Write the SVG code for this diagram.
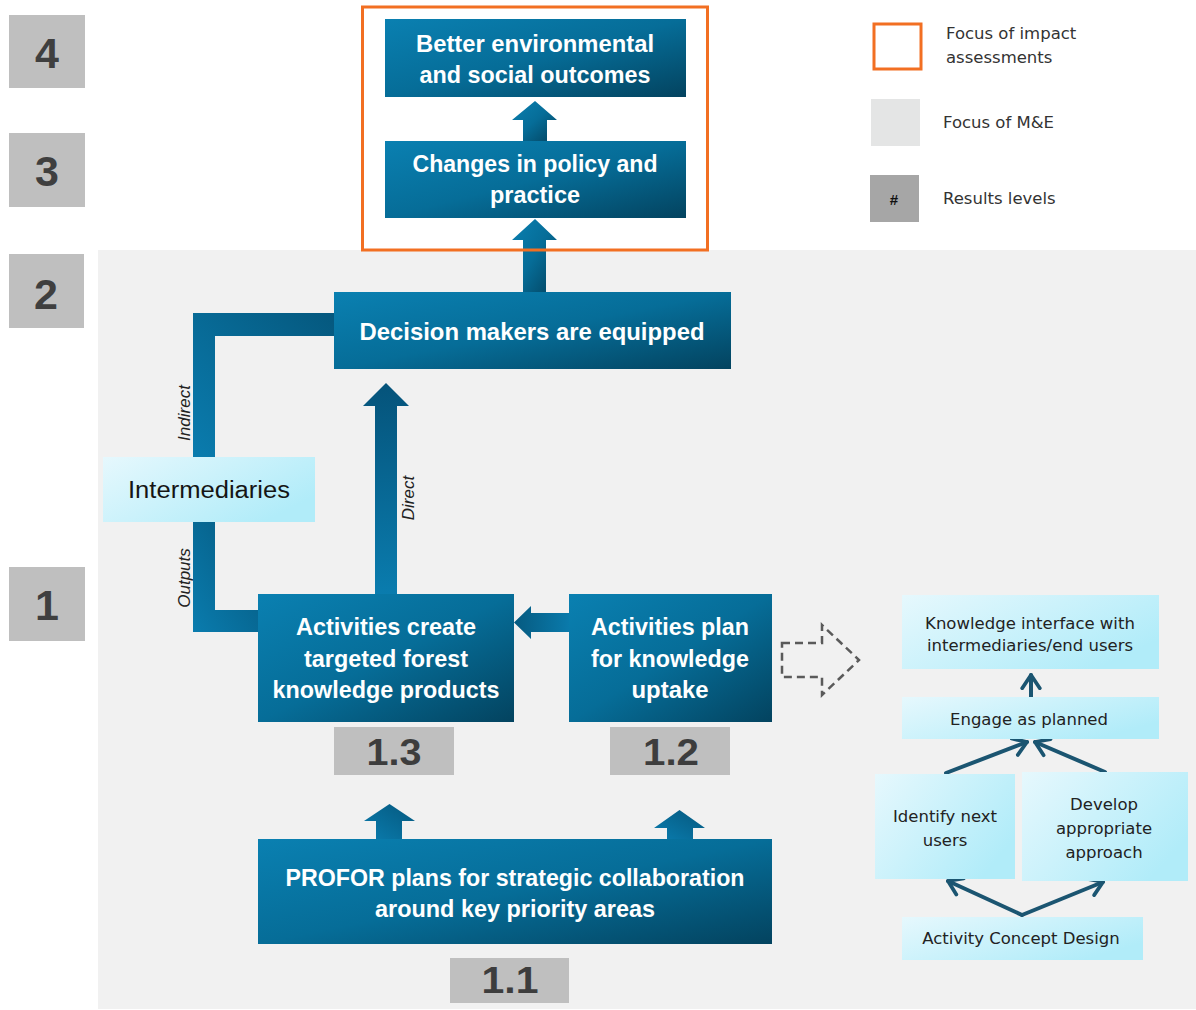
<svg xmlns="http://www.w3.org/2000/svg" width="1196" height="1010" viewBox="0 0 1196 1010">
<defs>
  <linearGradient id="gBox" x1="0" y1="0" x2="1" y2="1">
    <stop offset="0" stop-color="#0a80b1"/>
    <stop offset="0.5" stop-color="#066d98"/>
    <stop offset="1" stop-color="#03435f"/>
  </linearGradient>
  <linearGradient id="gLight" x1="0" y1="0" x2="1" y2="0.6">
    <stop offset="0" stop-color="#e6f8fd"/>
    <stop offset="1" stop-color="#b1ecf9"/>
  </linearGradient>
  <linearGradient id="gArrV" x1="0" y1="0" x2="0" y2="1">
    <stop offset="0" stop-color="#05537a"/>
    <stop offset="1" stop-color="#0a7cae"/>
  </linearGradient>
  <linearGradient id="gArrD" x1="0" y1="1" x2="1" y2="0">
    <stop offset="0" stop-color="#0a7cae"/>
    <stop offset="1" stop-color="#05587e"/>
  </linearGradient>
  <linearGradient id="gArrH" x1="1" y1="0" x2="0" y2="0">
    <stop offset="0" stop-color="#0a7aab"/>
    <stop offset="1" stop-color="#065a80"/>
  </linearGradient>
  <marker id="chev" viewBox="0 0 10 10" refX="7" refY="5" markerWidth="22" markerHeight="22" markerUnits="userSpaceOnUse" orient="auto">
    <path d="M1,1 L7,5 L1,9" fill="none" stroke="#1b5571" stroke-width="1.7" stroke-linecap="round" stroke-linejoin="round"/>
  </marker>
  <style>
    .box { fill: url(#gBox); }
    .light { fill: url(#gLight); }
    .lvl { fill: #bfbfbf; }
    .lvlt { font-family: "Liberation Sans", Arial, sans-serif; font-weight: bold; font-size: 43px; fill: #3f3f3f; text-anchor: middle; }
    .subt { font-family: "Liberation Sans", Arial, sans-serif; font-weight: bold; font-size: 36px; fill: #3d3d3d; text-anchor: middle; }
    .bt { font-family: "Liberation Sans", Arial, sans-serif; font-weight: bold; font-size: 24px; fill: #ffffff; text-anchor: middle; }
    .lt { font-family: "DejaVu Sans", "Liberation Sans", sans-serif; font-size: 16.5px; fill: #222222; text-anchor: middle; }
    .leg { font-family: "DejaVu Sans", "Liberation Sans", sans-serif; font-size: 16.5px; fill: #333333; }
    .it { font-family: "Liberation Sans", Arial, sans-serif; font-style: italic; font-size: 17px; fill: #222222; text-anchor: middle; }
    .arrow { fill: url(#gArrV); }
    .thin { fill: none; stroke: #1b5571; stroke-width: 4; stroke-linecap: round; marker-end: url(#chev); }
  </style>
</defs>

<rect x="0" y="0" width="1196" height="1010" fill="#ffffff"/>
<!-- M&E focus background -->
<rect x="98" y="250" width="1098" height="759" fill="#f1f1f1"/>

<!-- results levels -->
<g id="level-4"><rect class="lvl" x="9" y="15" width="76" height="73"/><text class="lvlt" x="47" y="68">4</text></g>
<g id="level-3"><rect class="lvl" x="9" y="133" width="76" height="74"/><text class="lvlt" x="47" y="186">3</text></g>
<g id="level-2"><rect class="lvl" x="9" y="254" width="75" height="74"/><text class="lvlt" x="46" y="309">2</text></g>
<g id="level-1"><rect class="lvl" x="9" y="567" width="76" height="74"/><text class="lvlt" x="47" y="620">1</text></g>

<!-- legend -->
<g id="legend">
  <rect x="874" y="24" width="47" height="45" fill="#ffffff" stroke="#f26f22" stroke-width="3"/>
  <text class="leg" x="946" y="39">Focus of impact</text>
  <text class="leg" x="946" y="63">assessments</text>
  <rect x="871" y="99" width="49" height="47" fill="#e4e5e5"/>
  <text class="leg" x="943" y="128">Focus of M&amp;E</text>
  <rect x="870" y="175" width="49" height="47" fill="#a6a6a6"/>
  <text x="894" y="205" text-anchor="middle" font-family="Liberation Sans, Arial, sans-serif" font-weight="bold" font-size="15" fill="#111">#</text>
  <text class="leg" x="943" y="204">Results levels</text>
</g>

<!-- connectors -->
<g id="connectors">
  <polygon fill="url(#gBox)" points="523,141 523,120 512,120 535,101 557,120 547,120 547,141"/>
  <polygon fill="url(#gBox)" points="523,292 523,240 512,240 535,219 557,240 546,240 546,292"/>
  <polygon class="arrow" points="375,594 375,406 363,406 386,383 409,406 397,406 397,594"/>
  <polygon fill="url(#gArrD)" points="193,457 193,313 334,313 334,336 215,336 215,457"/>
  <polygon fill="url(#gArrD)" points="193,522 215,522 215,610 258,610 258,632 193,632"/>
  <polygon fill="url(#gArrH)" points="569,613 531,613 531,606 514,622.5 531,639 531,632 569,632"/>
  <polygon fill="url(#gArrD)" points="376,839 376,821 364,821 389.5,804 415,821 402,821 402,839"/>
  <polygon fill="url(#gArrD)" points="667,839 667,828 654,828 679.5,810 705,828 693,828 693,839"/>
  <polygon points="782,643 822,643 822,625 859,660 822,695 822,677 782,677" fill="none" stroke="#5a5a5a" stroke-width="2.5" stroke-dasharray="8,5"/>
  <line class="thin" x1="1031" y1="697" x2="1031" y2="675"/>
  <line class="thin" x1="946" y1="773" x2="1027" y2="742"/>
  <line class="thin" x1="1105" y1="772" x2="1035" y2="742"/>
  <line class="thin" x1="1022" y1="915" x2="948" y2="881"/>
  <line class="thin" x1="1022" y1="915" x2="1103" y2="882"/>
  <text class="it" transform="translate(190,413) rotate(-90)" x="0" y="0">Indirect</text>
  <text class="it" transform="translate(414,498) rotate(-90)" x="0" y="0">Direct</text>
  <text class="it" transform="translate(190,578) rotate(-90)" x="0" y="0">Outputs</text>
</g>

<!-- impact focus -->
<rect id="impact-focus" x="362.5" y="7" width="345" height="243" fill="none" stroke="#f26f22" stroke-width="3"/>

<g id="n-outcomes">
  <rect class="box" x="385" y="19" width="301" height="78"/>
  <text class="bt" x="535" y="52" textLength="238" lengthAdjust="spacingAndGlyphs">Better environmental</text>
  <text class="bt" x="535" y="83" textLength="231" lengthAdjust="spacingAndGlyphs">and social outcomes</text>
</g>
<g id="n-policy">
  <rect class="box" x="385" y="141" width="301" height="77"/>
  <text class="bt" x="535" y="172" textLength="245" lengthAdjust="spacingAndGlyphs">Changes in policy and</text>
  <text class="bt" x="535" y="203" textLength="90" lengthAdjust="spacingAndGlyphs">practice</text>
</g>
<g id="n-decision">
  <rect class="box" x="334" y="292" width="397" height="77"/>
  <text class="bt" x="532" y="340" textLength="345" lengthAdjust="spacingAndGlyphs">Decision makers are equipped</text>
</g>
<g id="n-intermediaries">
  <rect class="light" x="103" y="457" width="212" height="65"/>
  <text x="209" y="498" text-anchor="middle" font-family="Liberation Sans, Arial, sans-serif" font-size="23" fill="#151515" textLength="162" lengthAdjust="spacingAndGlyphs">Intermediaries</text>
</g>
<g id="n-create">
  <rect class="box" x="258" y="594" width="256" height="128"/>
  <text class="bt" x="386" y="635" textLength="180" lengthAdjust="spacingAndGlyphs">Activities create</text>
  <text class="bt" x="386" y="667" textLength="164" lengthAdjust="spacingAndGlyphs">targeted forest</text>
  <text class="bt" x="386" y="698" textLength="227" lengthAdjust="spacingAndGlyphs">knowledge products</text>
</g>
<g id="n-plan">
  <rect class="box" x="569" y="594" width="203" height="128"/>
  <text class="bt" x="670" y="635" textLength="158" lengthAdjust="spacingAndGlyphs">Activities plan</text>
  <text class="bt" x="670" y="667" textLength="158" lengthAdjust="spacingAndGlyphs">for knowledge</text>
  <text class="bt" x="670" y="698" textLength="77" lengthAdjust="spacingAndGlyphs">uptake</text>
</g>
<g id="n-profor">
  <rect class="box" x="258" y="839" width="514" height="105"/>
  <text class="bt" x="515" y="886" textLength="459" lengthAdjust="spacingAndGlyphs">PROFOR plans for strategic collaboration</text>
  <text class="bt" x="515" y="917" textLength="280" lengthAdjust="spacingAndGlyphs">around key priority areas</text>
</g>
<g id="label-1-3"><rect class="lvl" x="334" y="727" width="120" height="48"/><text class="subt" x="394" y="765" textLength="55" lengthAdjust="spacingAndGlyphs">1.3</text></g>
<g id="label-1-2"><rect class="lvl" x="610" y="727" width="120" height="48"/><text class="subt" x="671" y="765" textLength="56" lengthAdjust="spacingAndGlyphs">1.2</text></g>
<g id="label-1-1"><rect class="lvl" x="450" y="958" width="119" height="45"/><text class="subt" x="510" y="993" textLength="57" lengthAdjust="spacingAndGlyphs">1.1</text></g>

<!-- knowledge uptake detail -->
<g id="n-interface">
  <rect class="light" x="902" y="595" width="257" height="74"/>
  <text class="lt" x="1030" y="629">Knowledge interface with</text>
  <text class="lt" x="1030" y="651">intermediaries/end users</text>
</g>
<g id="n-engage">
  <rect class="light" x="902" y="697" width="257" height="42"/>
  <text class="lt" x="1029" y="725">Engage as planned</text>
</g>
<g id="n-identify">
  <rect class="light" x="875" y="774" width="140" height="105"/>
  <text class="lt" x="945" y="822">Identify next</text>
  <text class="lt" x="945" y="846">users</text>
</g>
<g id="n-develop">
  <rect class="light" x="1022" y="772" width="166" height="109"/>
  <text class="lt" x="1104" y="810">Develop</text>
  <text class="lt" x="1104" y="834">appropriate</text>
  <text class="lt" x="1104" y="858">approach</text>
</g>
<g id="n-concept">
  <rect class="light" x="902" y="917" width="241" height="43"/>
  <text class="lt" x="1021" y="944">Activity Concept Design</text>
</g>
</svg>
